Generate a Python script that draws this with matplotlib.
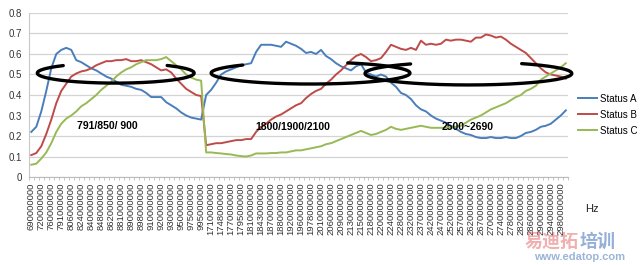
import matplotlib

matplotlib.use("Agg")

import matplotlib.pyplot as plt
import numpy as np


# tick labels, one for every other category (Hz)
TICK_LABELS = [
    "690000000", "720000000", "760000000", "791000000", "806000000", "824000000",
    "840000000", "848000000", "862000000", "881000000", "890000000", "898000000",
    "910000000", "920000000", "930000000", "950000000", "975000000", "995000000",
    "1710000000", "1748000000", "1770000000", "1795000000", "1810000000", "1843000000",
    "1870000000", "1880000000", "1920000000", "1960000000", "1978000000", "2010000000",
    "2060000000", "2090000000", "2130000000", "2150000000", "2180000000", "2200000000",
    "2240000000", "2280000000", "2320000000", "2370000000", "2420000000", "2470000000",
    "2520000000", "2570000000", "2620000000", "2670000000", "2700000000", "2740000000",
    "2780000000", "2820000000", "2860000000", "2900000000", "2940000000", "2980000000",
]

status_a = [
    0.22, 0.245, 0.32, 0.42, 0.53, 0.60, 0.62, 0.63, 0.62, 0.57,
    0.56, 0.545, 0.53, 0.52, 0.505, 0.49, 0.48, 0.465, 0.45, 0.445,
    0.44, 0.43, 0.425, 0.41, 0.39, 0.39, 0.39, 0.365, 0.35, 0.335,
    0.315, 0.30, 0.29, 0.285, 0.28, 0.40, 0.425, 0.46, 0.50, 0.515,
    0.525, 0.535, 0.545, 0.55, 0.555, 0.61, 0.645, 0.645, 0.645, 0.64,
    0.635, 0.66, 0.65, 0.64, 0.625, 0.605, 0.61, 0.60, 0.62, 0.59,
    0.575, 0.555, 0.54, 0.53, 0.52, 0.54, 0.55, 0.51, 0.50, 0.49,
    0.50, 0.49, 0.46, 0.44, 0.41, 0.40, 0.38, 0.35, 0.33, 0.32,
    0.30, 0.285, 0.275, 0.265, 0.25, 0.235, 0.22, 0.21, 0.205, 0.195,
    0.19, 0.19, 0.195, 0.19, 0.19, 0.195, 0.19, 0.19, 0.20, 0.215,
    0.22, 0.23, 0.245, 0.25, 0.26, 0.28, 0.30, 0.325,
]

status_b = [
    0.107, 0.117, 0.15, 0.21, 0.28, 0.36, 0.42, 0.455, 0.49, 0.505,
    0.515, 0.52, 0.53, 0.545, 0.555, 0.565, 0.565, 0.57, 0.57, 0.575,
    0.565, 0.565, 0.57, 0.56, 0.55, 0.535, 0.52, 0.525, 0.51, 0.48,
    0.455, 0.43, 0.415, 0.40, 0.395, 0.155, 0.16, 0.165, 0.165, 0.17,
    0.175, 0.18, 0.18, 0.185, 0.185, 0.22, 0.245, 0.26, 0.28, 0.295,
    0.305, 0.32, 0.335, 0.35, 0.36, 0.385, 0.405, 0.42, 0.43, 0.455,
    0.475, 0.50, 0.52, 0.545, 0.57, 0.59, 0.60, 0.585, 0.565, 0.57,
    0.58, 0.61, 0.645, 0.635, 0.625, 0.62, 0.63, 0.62, 0.665, 0.645,
    0.65, 0.645, 0.65, 0.67, 0.665, 0.67, 0.67, 0.665, 0.66, 0.68,
    0.68, 0.695, 0.69, 0.68, 0.685, 0.67, 0.65, 0.635, 0.62, 0.605,
    0.58, 0.555, 0.53, 0.51, 0.50, 0.495, 0.49, 0.48,
]

status_c = [
    0.06, 0.065, 0.09, 0.12, 0.165, 0.22, 0.26, 0.285, 0.30, 0.32,
    0.345, 0.36, 0.38, 0.40, 0.425, 0.445, 0.465, 0.49, 0.51, 0.525,
    0.535, 0.55, 0.56, 0.57, 0.57, 0.57, 0.575, 0.585, 0.565, 0.545,
    0.525, 0.50, 0.485, 0.475, 0.47, 0.12, 0.12, 0.117, 0.115, 0.112,
    0.11, 0.105, 0.102, 0.10, 0.105, 0.115, 0.115, 0.115, 0.117, 0.117,
    0.12, 0.12, 0.125, 0.13, 0.13, 0.135, 0.14, 0.145, 0.15, 0.16,
    0.165, 0.175, 0.185, 0.195, 0.205, 0.215, 0.225, 0.215, 0.205, 0.21,
    0.22, 0.23, 0.245, 0.235, 0.23, 0.235, 0.24, 0.245, 0.25, 0.245,
    0.24, 0.24, 0.24, 0.24, 0.24, 0.245, 0.25, 0.265, 0.28, 0.29,
    0.30, 0.315, 0.33, 0.34, 0.35, 0.36, 0.375, 0.39, 0.40, 0.42,
    0.43, 0.445, 0.475, 0.49, 0.505, 0.52, 0.535, 0.555,
]

series = [
    ("Status A", status_a, "#4A7EBB"),
    ("Status B", status_b, "#BE4B48"),
    ("Status C", status_c, "#98B954"),
]

# band rings: (centre index, centre value, width, height, top gap start/end in degrees)
rings = [
    (16.9, 0.507, 31.4, 0.098, 49, 132),
    (55.9, 0.507, 39.8, 0.107, 68, 133),
    (87.5, 0.505, 41.4, 0.112, 59, 124),
]
band_labels = [
    (15.2, 0.25, "791/850/ 900"),
    (52.4, 0.245, "1800/1900/2100"),
    (87.4, 0.245, "2500~2690"),
]

plt.rcParams["font.family"] = ["Liberation Sans", "DejaVu Sans"]

fig = plt.figure(figsize=(6.4, 2.65), dpi=100)
ax = fig.add_axes([0.045, 0.332, 0.843, 0.619])

n = len(status_a)
x = np.arange(n)
for name, vals, color in series:
    ax.plot(x, vals, color=color, linewidth=1.4, label=name, zorder=3)

for cx, cy, w, h, g0, g1 in rings:
    t = np.radians(np.linspace(g1, g0 + 360, 300))
    ax.plot(cx + w / 2 * np.cos(t), cy + h / 2 * np.sin(t),
            color="black", linewidth=2.4, solid_capstyle="round", zorder=4, clip_on=False)

for bx, by, txt in band_labels:
    ax.text(bx, by, txt, ha="center", va="center", fontsize=7.5, fontweight="bold", zorder=5)

ax.set_xlim(-0.5, n - 0.5)
ax.set_ylim(0, 0.8)
ax.set_yticks(np.arange(0, 0.81, 0.1))
ax.set_yticklabels(["0", "0.1", "0.2", "0.3", "0.4", "0.5", "0.6", "0.7", "0.8"])
ax.yaxis.grid(True, color="#D4D4D4", linewidth=0.9)
ax.set_axisbelow(True)

ax.set_xticks(np.arange(0, n, 2))
ax.set_xticklabels(TICK_LABELS, rotation=90, fontsize=6.8, color="#333333")
ax.set_xticks(np.arange(-0.5, n, 1), minor=True)
ax.tick_params(axis="x", which="major", length=0, pad=4)
ax.tick_params(axis="x", which="minor", length=2.5, color="#BBBBBB", width=0.6)
ax.tick_params(axis="y", length=0, labelsize=7, labelcolor="#333333", pad=5)

for side in ["top", "right"]:
    ax.spines[side].set_visible(False)
ax.spines["left"].set_color("#C8C8C8")
ax.spines["bottom"].set_color("#BBBBBB")

ax.legend(loc="center left", bbox_to_anchor=(1.0, 0.38), frameon=False, fontsize=7,
          handlelength=2.0, handletextpad=0.3, labelspacing=0.6, borderaxespad=0.6)

fig.text(0.914, 0.2, "Hz", fontsize=8, color="#222222")

# watermark of the source site, kept below the tick labels
fig.text(0.82, 0.07, "易迪拓", fontsize=13, fontweight="bold", color="#E05050", alpha=0.45,
         family=["Noto Sans CJK SC", "DejaVu Sans"])
fig.text(0.905, 0.07, "培训", fontsize=13, fontweight="bold", color="#3D6FB8", alpha=0.55,
         family=["Noto Sans CJK SC", "DejaVu Sans"])
fig.text(0.835, 0.02, "www.edatop.com", fontsize=8, fontweight="bold", color="#4A78B8", alpha=0.55)

fig.savefig("out.png", dpi=100)
plt.close(fig)
